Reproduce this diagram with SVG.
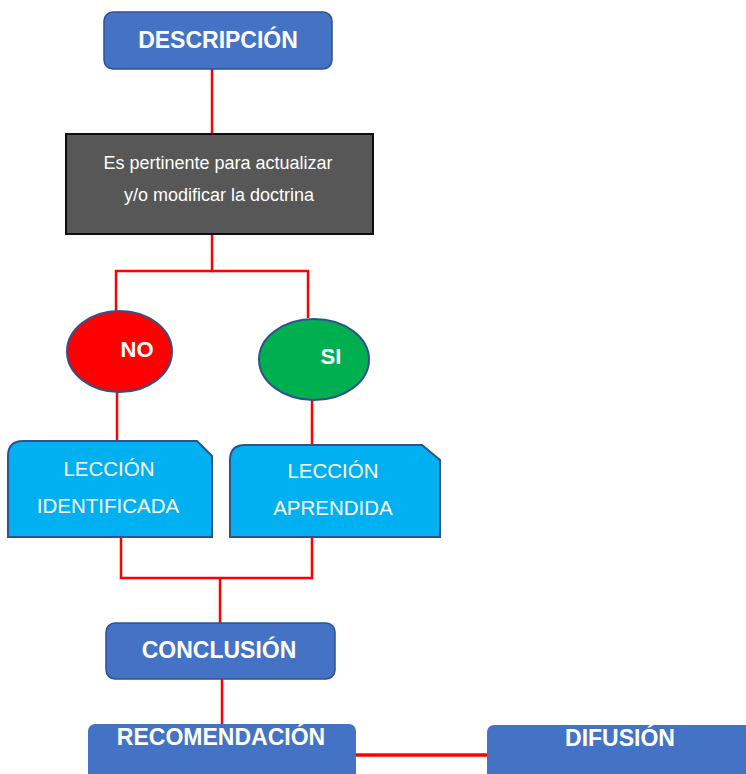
<svg xmlns="http://www.w3.org/2000/svg" width="746" height="774" viewBox="0 0 746 774">
  <style>
    .wire { stroke: #FF0000; stroke-width: 2.5; fill: none; }
    .title { fill: #4472C4; stroke: #2F528F; stroke-width: 1.5; }
    .title-flat { fill: #4472C4; }
    .lesson { fill: #00B0F0; stroke: #2F528F; stroke-width: 2; }
    .decision { stroke: #2F528F; stroke-width: 2; }
    .bold { font-family: "Liberation Sans", Arial, sans-serif; font-weight: bold; fill: #FFFFFF; text-anchor: middle; }
    .plain { font-family: "Liberation Sans", Arial, sans-serif; fill: #FFFFFF; text-anchor: middle; }
  </style>
  <rect width="746" height="774" fill="#FFFFFF"/>

  <!-- connectors -->
  <g id="connectors">
    <line class="wire" x1="212" y1="69" x2="212" y2="134"/>
    <polyline class="wire" points="212,234 212,271 116,271 116,312"/>
    <polyline class="wire" points="212,271 308,271 308,318"/>
    <line class="wire" x1="117" y1="392" x2="117" y2="441"/>
    <line class="wire" x1="312" y1="400" x2="312" y2="445"/>
    <polyline class="wire" points="121,537 121,578 312,578 312,537"/>
    <line class="wire" x1="220" y1="578" x2="220" y2="623"/>
    <line class="wire" x1="222" y1="679" x2="222" y2="724"/>
    <line class="wire" x1="356" y1="755" x2="487" y2="755" style="stroke-width:3.5"/>
  </g>

  <g id="descripcion">
    <rect class="title" x="104" y="12" width="228" height="57" rx="9"/>
    <text class="bold" x="218" y="48" font-size="23">DESCRIPCIÓN</text>
  </g>

  <g id="pertinente">
    <rect x="66" y="134" width="307" height="100" fill="#575757" stroke="#0D0D0D" stroke-width="2"/>
    <text class="plain" x="218" y="169" font-size="18">Es pertinente para actualizar</text>
    <text class="plain" x="219" y="201" font-size="18">y/o modificar la doctrina</text>
  </g>

  <g id="no">
    <ellipse class="decision" cx="119.5" cy="351.5" rx="52.5" ry="40.5" fill="#FF0000"/>
    <text class="bold" x="137" y="357" font-size="22">NO</text>
  </g>

  <g id="si">
    <ellipse class="decision" cx="314" cy="359.5" rx="55" ry="40.5" fill="#00B050"/>
    <text class="bold" x="331" y="364" font-size="22">SI</text>
  </g>

  <g id="leccion-identificada">
    <path class="lesson" d="M8,537 V456 Q8,441 23,441 H197 L212,456 V537 Z"/>
    <text class="plain" x="109" y="476" font-size="20.5">LECCIÓN</text>
    <text class="plain" x="108" y="513" font-size="20.5">IDENTIFICADA</text>
  </g>

  <g id="leccion-aprendida">
    <path class="lesson" d="M230,537 V460 Q230,445 245,445 H422 L440,460 V537 Z"/>
    <text class="plain" x="333" y="478" font-size="20.5">LECCIÓN</text>
    <text class="plain" x="333" y="515" font-size="20.5">APRENDIDA</text>
  </g>

  <g id="conclusion">
    <rect class="title" x="106" y="623" width="229" height="56" rx="9"/>
    <text class="bold" x="219" y="658" font-size="23">CONCLUSIÓN</text>
  </g>

  <g id="recomendacion">
    <rect class="title-flat" x="88" y="724" width="268" height="70" rx="7"/>
    <text class="bold" x="221" y="745" font-size="23">RECOMENDACIÓN</text>
  </g>

  <g id="difusion">
    <rect class="title-flat" x="487" y="725" width="266" height="70" rx="7"/>
    <text class="bold" x="620" y="746" font-size="23">DIFUSIÓN</text>
  </g>
</svg>
